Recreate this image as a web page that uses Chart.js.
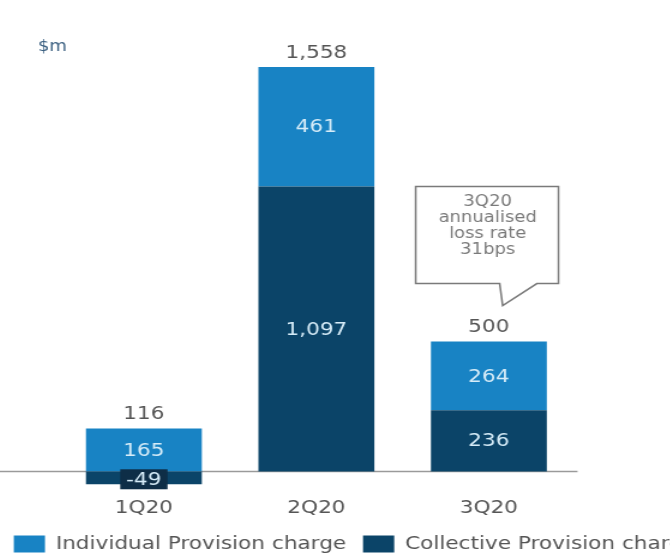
<!DOCTYPE html>
<html>
<head>
<meta charset="utf-8">
<script src="https://cdn.jsdelivr.net/npm/chart.js@4/dist/chart.umd.min.js"></script>
<style>
  html, body { margin: 0; padding: 0; background: #fff; overflow: hidden; width: 670px; height: 553px; }
  /* the source picture is stretched sideways, so the canvas is too */
  #wrap { position: absolute; left: -5px; top: 0; transform: scale(1.2, 1); transform-origin: 0 0; }
</style>
</head>
<body>
<div id="wrap"><canvas id="chart" width="600" height="563"></canvas></div>
<script>
// Chart data
const quarters = ['1Q20', '2Q20', '3Q20'];
const individualCharge = [165, 461, 264];
const collectiveCharge = [-49, 1097, 236];
const totalCharge = [116, 1558, 500];
const calloutLines = ['3Q20', 'annualised', 'loss rate', '31bps'];

const COLORS = {
  individual: '#1883c4',
  collective: '#0b4468',
  negBack: '#0e2e47',
  inner: '#d6ecf8',
  text: '#555555',
  unit: '#3a5f80',
  axis: '#9a9a9a',
  callout: '#7a7a7a'
};
const FONT = "'DejaVu Sans', Verdana, sans-serif";

// Draws zero line, value labels, totals, callout and unit label
const overlay = {
  id: 'overlay',
  beforeDatasetsDraw(chart) {
    const { ctx, chartArea, scales: { y } } = chart;
    const y0 = Math.round(y.getPixelForValue(0)) + 0.5;
    ctx.save();
    ctx.strokeStyle = COLORS.axis;
    ctx.lineWidth = 1.5;
    ctx.beginPath();
    ctx.moveTo(0, y0);
    ctx.lineTo(chartArea.right + 2, y0);
    ctx.stroke();
    ctx.restore();
  },
  afterDatasetsDraw(chart) {
    const { ctx, scales: { x, y } } = chart;
    ctx.save();
    ctx.font = '18px ' + FONT;
    ctx.textAlign = 'center';
    ctx.textBaseline = 'middle';

    // segment labels
    chart.data.datasets.forEach((ds, di) => {
      chart.getDatasetMeta(di).data.forEach((bar, i) => {
        const v = ds.data[i];
        let cy = (bar.y + bar.base) / 2;
        const label = v.toLocaleString('en-US');
        if (Math.abs(bar.base - bar.y) < 22) {
          cy += 1.5;
          const w = ctx.measureText(label).width + 10;
          ctx.fillStyle = COLORS.negBack;
          ctx.fillRect(bar.x - w / 2, cy - 10, w, 20);
        }
        ctx.fillStyle = COLORS.inner;
        ctx.fillText(label, bar.x, cy + 1);
      });
    });

    // totals above each stack
    ctx.fillStyle = COLORS.text;
    totalCharge.forEach((t, i) => {
      const top = y.getPixelForValue(Math.max(t, individualCharge[i] + Math.max(0, collectiveCharge[i])));
      ctx.fillText(t.toLocaleString('en-US'), x.getPixelForValue(i), top - 14);
    });

    // speech bubble over 3Q20
    const cx = x.getPixelForValue(2) - 1;
    const tipY = y.getPixelForValue(totalCharge[2]) - 36;
    const left = cx - 60, right = cx + 59, bottom = tipY - 22, top = bottom - 97;
    ctx.strokeStyle = COLORS.callout;
    ctx.lineWidth = 1.5;
    ctx.beginPath();
    ctx.moveTo(left, top);
    ctx.lineTo(right, top);
    ctx.lineTo(right, bottom);
    ctx.lineTo(cx + 41, bottom);
    ctx.lineTo(cx + 12.5, tipY);
    ctx.lineTo(cx + 10, bottom);
    ctx.lineTo(left, bottom);
    ctx.closePath();
    ctx.fillStyle = '#fff';
    ctx.fill();
    ctx.stroke();
    ctx.fillStyle = COLORS.callout;
    ctx.font = '15px ' + FONT;
    calloutLines.forEach((line, k) => {
      ctx.fillText(line, cx, top + 16 + k * 16);
    });

    // unit label
    ctx.fillStyle = COLORS.unit;
    ctx.font = '15px ' + FONT;
    ctx.textAlign = 'left';
    ctx.fillText('$m', 35.7, 47);
    ctx.restore();
  }
};

new Chart(document.getElementById('chart'), {
  type: 'bar',
  data: {
    labels: quarters,
    datasets: [
      {
        label: 'Collective Provision charge',
        data: collectiveCharge,
        backgroundColor: COLORS.collective
      },
      {
        label: 'Individual Provision charge',
        data: individualCharge,
        backgroundColor: COLORS.individual
      }
    ]
  },
  options: {
    responsive: false,
    animation: false,
    layout: { padding: { left: 0, right: 0, top: 56, bottom: 0 } },
    datasets: { bar: { categoryPercentage: 1, barPercentage: 0.672 } },
    scales: {
      x: {
        stacked: true,
        grid: { display: false, drawTicks: false },
        border: { display: false },
        ticks: { color: COLORS.text, font: { size: 18, family: FONT }, padding: 11 },
        afterFit: (s) => { s.height = 34; }
      },
      y: {
        stacked: true,
        position: 'left',
        min: -60,
        max: 1600,
        grid: { display: false, drawTicks: false },
        border: { display: false },
        ticks: { display: false },
        afterFit: (s) => { s.width = 52.17; }
      },
      spacer: {
        position: 'right',
        grid: { display: false, drawTicks: false },
        border: { display: false },
        ticks: { display: false },
        afterFit: (s) => { s.width = 116.58; }
      }
    },
    plugins: {
      tooltip: { enabled: false },
      legend: {
        position: 'bottom',
        reverse: true,
        labels: {
          boxWidth: 26,
          boxHeight: 17,
          padding: 14,
          color: COLORS.text,
          font: { size: 18, family: FONT }
        }
      }
    }
  },
  plugins: [overlay]
});
</script>
</body>
</html>
